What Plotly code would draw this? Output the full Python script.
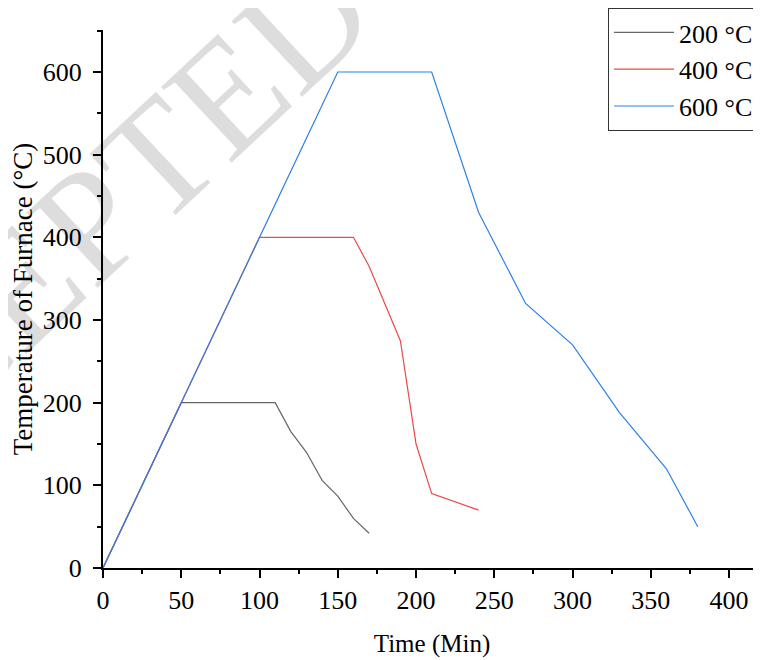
import plotly.graph_objects as go

# Data
names = ["200 °C", "400 °C", "600 °C"]
t200 = [0, 50, 110, 120, 130, 140, 150, 160, 170]
T200 = [0, 200, 200, 165, 140, 106, 87, 60, 42]
t400 = [0, 100, 160, 170, 190, 200, 210, 240]
T400 = [0, 400, 400, 365, 275, 150, 90, 70]
t600 = [0, 150, 210, 240, 270, 300, 330, 360, 380]
T600 = [0, 600, 600, 430, 320, 270, 188, 120, 50]
colors = ["#666666", "#ee4848", "#2f80e8"]

FONT = "Liberation Serif"

fig = go.Figure()
for xs, ys, nm, c in zip([t200, t400, t600], [T200, T400, T600], names, colors):
    fig.add_trace(go.Scatter(x=xs, y=ys, mode="lines", name=nm,
                             line=dict(color=c, width=1.2)))

axis_common = dict(
    showline=True, linecolor="black", linewidth=2,
    ticks="outside", ticklen=8, tickwidth=2, tickcolor="black",
    showgrid=False, zeroline=False, mirror=False, automargin=False,
    tickfont=dict(family=FONT, size=26, color="black"),
)

fig.update_xaxes(range=[0, 420.4], dtick=50, tick0=0,
                 title=dict(text="Time (Min)", font=dict(family=FONT, size=25, color="black"), standoff=20),
                 minor=dict(ticks="outside", ticklen=4, tickwidth=2, tickcolor="black", dtick=25),
                 **axis_common)
fig.update_yaxes(range=[0, 650.8], dtick=100, tick0=0, ticklabelstandoff=6,
                 title=dict(text="Temperature of Furnace (°C)", font=dict(family=FONT, size=27, color="black"), standoff=10),
                 minor=dict(ticks="outside", ticklen=4, tickwidth=2, tickcolor="black", dtick=50),
                 **axis_common)

fig.add_annotation(text="ACCEPTED", xref="paper", yref="paper", x=-0.085, y=0.57,
                   xanchor="center", yanchor="middle", showarrow=False, textangle=-43,
                   font=dict(family=FONT, size=158, color="rgba(0,0,0,0.135)"))

# the page body adds an 8px offset; the figure is sized to fill the rest of the window
W, H = 753, 652
fig.update_layout(
    width=W, height=H,
    margin=dict(l=95, r=0, t=22, b=92, autoexpand=False),
    plot_bgcolor="white", paper_bgcolor="white",
    font=dict(family=FONT, color="black"),
    legend=dict(xref="container", yref="container", x=600/W, y=1 - 0/H,
                xanchor="left", yanchor="top", itemwidth=60,
                bgcolor="white", bordercolor="#333333", borderwidth=1,
                font=dict(family=FONT, size=26, color="black")),
)

fig.write_html("out.html")
